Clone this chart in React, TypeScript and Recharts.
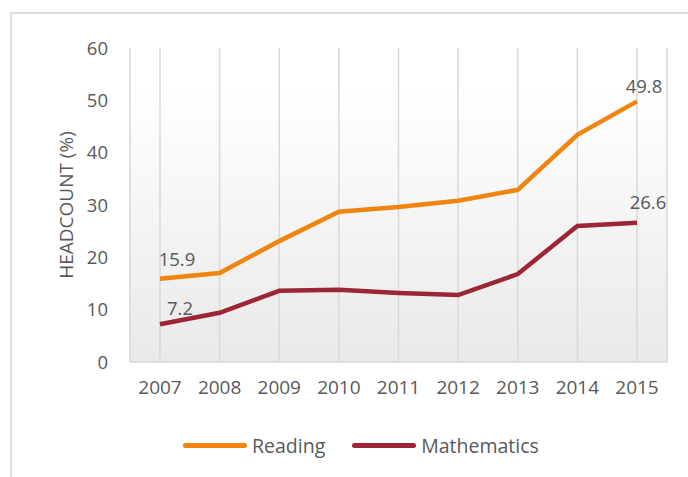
import { CartesianGrid, LabelList, Line, LineChart, XAxis, YAxis } from "recharts"

const years = ["2007", "2008", "2009", "2010", "2011", "2012", "2013", "2014", "2015"]
const reading = [15.9, 17.0, 23.1, 28.7, 29.6, 30.8, 32.9, 43.4, 49.8]
const mathematics = [7.2, 9.4, 13.6, 13.8, 13.2, 12.8, 16.8, 26.0, 26.6]
const yTicks = [0, 10, 20, 30, 40, 50, 60]

const series = [
  { key: "reading", name: "Reading", color: "#EF840E", values: reading },
  { key: "mathematics", name: "Mathematics", color: "#9C2536", values: mathematics },
]

const data = years.map((year, i) => ({
  year,
  reading: reading[i],
  mathematics: mathematics[i],
}))

const font = "'Open Sans', sans-serif"
const textColor = "#595959"

// only first and last points carry a value label
const endLabel = (offsets: { first: [number, number]; last: [number, number] }) => (props: any) => {
  const { x, y, index, value } = props
  if (index !== 0 && index !== years.length - 1) return null
  const [dx, dy] = index === 0 ? offsets.first : offsets.last
  return (
    <text x={x + dx} y={y + dy} textAnchor="middle" fill={textColor} fontSize={18.5} fontFamily={font}>
      {value.toFixed(1)}
    </text>
  )
}

const yLabel = (props: any) => {
  const vb = props.viewBox
  const cx = 66
  const cy = vb.y + vb.height / 2
  return (
    <text
      x={cx}
      y={cy}
      transform={`rotate(-90, ${cx}, ${cy})`}
      textAnchor="middle"
      dominantBaseline="central"
      fill={textColor}
      fontSize={19}
      fontFamily={font}
    >
      HEADCOUNT (%)
    </text>
  )
}

export default function App() {
  return (
    <div style={{ position: "absolute", left: 0, top: 0, width: 688, height: 477, background: "#fff" }}>
      <div
        style={{
          position: "absolute",
          left: 10,
          top: 12,
          width: 678,
          height: 465,
          borderLeft: "2px solid #dcdcdc",
          borderTop: "2px solid #dcdcdc",
        }}
      />
      <LineChart
        width={688}
        height={477}
        data={data}
        margin={{ top: 48, right: 21, left: 0, bottom: 85 }}
        style={{ position: "absolute", left: 0, top: 0 }}
      >
        <defs>
          <linearGradient id="plotBg" x1="0" y1="0" x2="0" y2="1">
            <stop offset="0%" stopColor="#ffffff" />
            <stop offset="13%" stopColor="#ffffff" />
            <stop offset="100%" stopColor="#e9e9e9" />
          </linearGradient>
        </defs>
        <CartesianGrid horizontal={false} stroke="#d9d9d9" strokeWidth={1.5} fill="url(#plotBg)" />
        <XAxis
          dataKey="year"
          padding={{ left: 30, right: 30 }}
          axisLine={{ stroke: "#d6d6d6", strokeWidth: 1.5 }}
          tickLine={false}
          tickMargin={13}
          tick={{ fill: textColor, fontSize: 19, fontFamily: font }}
          height={30}
        />
        <YAxis
          width={130}
          domain={[0, 60]}
          ticks={yTicks}
          axisLine={false}
          tickLine={false}
          tickMargin={16}
          tick={{ fill: textColor, fontSize: 18.5, fontFamily: font }}
          label={yLabel}
        />
        {series.map((s) => (
          <Line
            key={s.key}
            dataKey={s.key}
            name={s.name}
            stroke={s.color}
            strokeWidth={4.5}
            dot={false}
            type="linear"
            isAnimationActive={false}
          >
            <LabelList
              dataKey={s.key}
              content={
                s.key === "reading"
                  ? endLabel({ first: [17, -13], last: [7, -8] })
                  : endLabel({ first: [20, -9], last: [11, -14] })
              }
            />
          </Line>
        ))}
      </LineChart>
      <div
        style={{
          position: "absolute",
          left: 183,
          top: 432,
          display: "flex",
          alignItems: "center",
          fontFamily: font,
          fontSize: 19.5,
          color: textColor,
        }}
      >
        {series.map((s, i) => (
          <div key={s.key} style={{ display: "flex", alignItems: "center", marginLeft: i === 0 ? 0 : 27 }}>
            <span
              style={{
                display: "inline-block",
                width: 64,
                height: 5,
                borderRadius: 3,
                background: s.color,
                marginRight: 5,
              }}
            />
            <span>{s.name}</span>
          </div>
        ))}
      </div>
    </div>
  )
}
